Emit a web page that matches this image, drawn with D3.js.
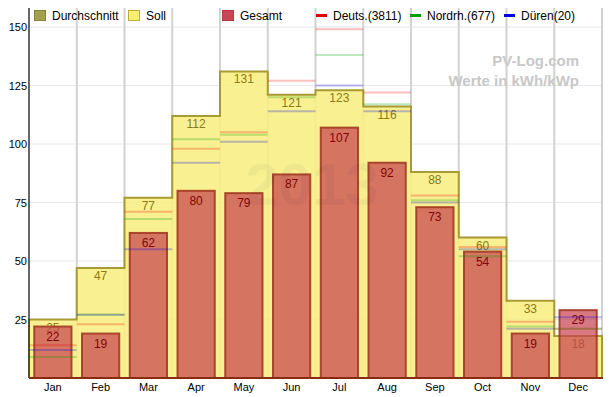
<html>
  <head>
    <meta charset="utf-8">
    <title>PV-Log 2013</title>
    <script src="https://d3js.org/d3.v7.min.js"></script>
    <style type="text/css">
      body { margin: 0; background: #fff; }
      svg { display: block; font-family: "Liberation Sans", Arial, sans-serif; }
      .tick text { fill: #000; }
    </style>
  </head>
  <body>
    <div id="chart"></div>
  </body>
</html>
<script type="text/javascript">
  const width = 611,
    height = 397;

  // values (kWh/kWp)
  const months = ["Jan", "Feb", "Mar", "Apr", "May", "Jun", "Jul", "Aug", "Sep", "Oct", "Nov", "Dec"];
  const soll = [25, 47, 77, 112, 131, 121, 123, 116, 88, 60, 33, 18];
  const gesamt = [22, 19, 62, 80, 79, 87, 107, 92, 73, 54, 19, 29];
  const deuts = [14, 23, 71, 98, 105, 127, 149, 122, 78, 56, 24, 21];
  const nordrh = [9, 27, 68, 102, 104, 120, 138, 117, 76, 52, 22, 21];
  const dueren = [12, 27, 55, 92, 101, 114, 125, 114, 75, 55, 21, 26];
  const yTicks = [25, 50, 75, 100, 125, 150];
  const legendItems = ["Durchschnitt", "Soll", "Gesamt", "Deuts.(3811)", "Nordrh.(677)", "Düren(20)"];

  const plotLeft = 29, plotRight = 602, plotBottom = 378, plotTop = 8;

  const x = d3.scaleBand().domain(months).range([plotLeft, plotRight]).padding(0);
  const y = d3.scaleLinear().domain([0, 150]).range([plotBottom, 27]);
  const bw = x.bandwidth();

  const svg = d3.select("#chart").append("svg")
    .attr("width", width)
    .attr("height", height);

  // grid
  svg.append("g").selectAll("line")
    .data(yTicks)
    .enter().append("line")
      .attr("x1", plotLeft).attr("x2", plotRight)
      .attr("y1", d => y(d)).attr("y2", d => y(d))
      .attr("stroke", "#e6e6e6")
      .attr("stroke-width", 1);

  svg.append("g").selectAll("line")
    .data(months)
    .enter().append("line")
      .attr("x1", d => x(d) + bw)
      .attr("x2", d => x(d) + bw)
      .attr("y1", plotTop).attr("y2", plotBottom)
      .attr("stroke", "#d2d2d2")
      .attr("stroke-width", 2);

  // Soll as a step area
  const pts = [[plotLeft, y(0)]];
  months.forEach(function(m, i) {
    pts.push([x(m), y(soll[i])]);
    pts.push([x(m) + bw, y(soll[i])]);
  });
  pts.push([plotRight, y(0)]);

  svg.append("path")
    .attr("d", d3.line()(pts))
    .attr("fill", "#f8ef82")
    .attr("fill-opacity", 0.88)
    .attr("stroke", "#a89a35")
    .attr("stroke-width", 2);

  svg.append("g").selectAll("text")
    .data(soll)
    .enter().append("text")
      .attr("x", (d, i) => x(months[i]) + bw / 2)
      .attr("y", d => y(d) + 12)
      .attr("text-anchor", "middle")
      .attr("font-size", "12px")
      .attr("fill", "#8c7a16")
      .text(d => d);

  // Gesamt bars
  svg.append("g").selectAll("rect")
    .data(gesamt)
    .enter().append("rect")
      .attr("x", (d, i) => x(months[i]) + bw * 0.11)
      .attr("y", d => y(d))
      .attr("width", bw * 0.78)
      .attr("height", d => y(0) - y(d))
      .attr("fill", "rgba(200, 62, 78, 0.7)")
      .attr("stroke", "#a33a22")
      .attr("stroke-opacity", 0.9)
      .attr("stroke-width", 2);

  svg.append("g").selectAll("text")
    .data(gesamt)
    .enter().append("text")
      .attr("x", (d, i) => x(months[i]) + bw / 2)
      .attr("y", d => y(d) + 14)
      .attr("text-anchor", "middle")
      .attr("font-size", "12px")
      .attr("fill", "#7d0606")
      .text(d => d);

  // regional averages
  const refs = [
    { values: deuts, color: "rgba(240, 0, 0, 0.25)" },
    { values: nordrh, color: "rgba(0, 160, 0, 0.25)" },
    { values: dueren, color: "rgba(0, 0, 230, 0.25)" }
  ];
  refs.forEach(function(r) {
    svg.append("g").selectAll("line")
      .data(r.values)
      .enter().append("line")
        .attr("x1", (d, i) => x(months[i]))
        .attr("x2", (d, i) => x(months[i]) + bw)
        .attr("y1", d => y(d)).attr("y2", d => y(d))
        .attr("stroke", r.color)
        .attr("stroke-width", 2);
  });

  // watermarks
  svg.append("text")
    .attr("x", 312).attr("y", 205)
    .attr("text-anchor", "middle")
    .attr("font-size", "60px")
    .attr("font-weight", "bold")
    .attr("fill", "#000")
    .attr("fill-opacity", 0.04)
    .text("2013");

  svg.append("text")
    .attr("x", 579).attr("y", 66)
    .attr("text-anchor", "end")
    .attr("font-size", "15px")
    .attr("font-weight", "bold")
    .attr("fill", "#c8c8c8")
    .text("PV-Log.com");

  svg.append("text")
    .attr("x", 579).attr("y", 86)
    .attr("text-anchor", "end")
    .attr("font-size", "15px")
    .attr("font-weight", "bold")
    .attr("fill", "#c8c8c8")
    .text("Werte in kWh/kWp");

  // axes
  const yAxis = svg.append("g")
    .attr("transform", "translate(" + (plotLeft - 2) + ",0)")
    .call(d3.axisLeft(y).tickValues(yTicks).tickSize(0).tickPadding(0));
  yAxis.select(".domain").remove();
  yAxis.selectAll("text").attr("font-size", "11px").attr("font-family", null);

  const xAxis = svg.append("g")
    .attr("transform", "translate(0," + plotBottom + ")")
    .call(d3.axisBottom(x).tickSize(0).tickPadding(5));
  xAxis.select(".domain").remove();
  xAxis.selectAll("text").attr("font-size", "11px").attr("font-family", null);

  svg.append("line")
    .attr("x1", plotLeft).attr("x2", plotLeft)
    .attr("y1", plotTop).attr("y2", plotBottom)
    .attr("stroke", "#333")
    .attr("stroke-width", 1.5);

  svg.append("line")
    .attr("x1", plotLeft).attr("x2", plotRight + 1)
    .attr("y1", plotBottom).attr("y2", plotBottom)
    .attr("stroke", "#8a2a10")
    .attr("stroke-width", 2);

  // legend
  const legendX = [34, 128, 222, 316, 410, 504];
  const swatches = [
    { fill: "#a3a24c", stroke: "#84843a", kind: "box" },
    { fill: "#f8ee6e", stroke: "#c2aa38", kind: "box" },
    { fill: "#c94657", stroke: "#b03a40", kind: "box" },
    { fill: "#e00000", kind: "line" },
    { fill: "#00a000", kind: "line" },
    { fill: "#0000e0", kind: "line" }
  ];
  const legend = svg.append("g");
  legendItems.forEach(function(name, i) {
    const s = swatches[i];
    if (s.kind === "box") {
      legend.append("rect")
        .attr("x", legendX[i] + 0.5).attr("y", 10.5)
        .attr("width", 11).attr("height", 10)
        .attr("fill", s.fill)
        .attr("stroke", s.stroke);
    } else {
      legend.append("rect")
        .attr("x", legendX[i]).attr("y", 14)
        .attr("width", 11).attr("height", 3)
        .attr("fill", s.fill);
    }
    legend.append("text")
      .attr("x", legendX[i] + (s.kind === "box" ? 18 : 17))
      .attr("y", 20)
      .attr("font-size", "12px")
      .attr("fill", "#000")
      .text(name);
  });
</script>
